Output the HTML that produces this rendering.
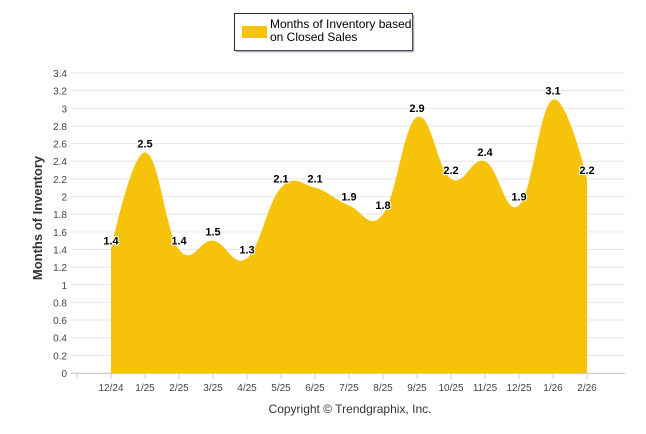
<!DOCTYPE html>
<html><head><meta charset="utf-8"><style>
body{margin:0;background:#fff;}
svg{display:block;font-family:"Liberation Sans",sans-serif;}
</style></head><body>
<svg id="c" width="646" height="434">
<g>
<rect x="234.5" y="13.5" width="178" height="37" fill="#fff" stroke="#1f2d4d" stroke-width="1"/>
<line x1="236" y1="51.5" x2="414" y2="51.5" stroke="#aaa" stroke-width="1.5"/>
<line x1="413.5" y1="15" x2="413.5" y2="52" stroke="#aaa" stroke-width="1.5"/>
<rect x="242" y="26" width="25" height="12" fill="#f7c30a"/>
<text x="270" y="28" font-size="12" fill="#000">Months of Inventory based</text>
<text x="270" y="41" font-size="12" fill="#000">on Closed Sales</text>
</g>
<g id="grid"></g>
<path id="area" fill="#f7c30a"/>
<g id="labels"></g>
<text transform="translate(42,218) rotate(-90)" text-anchor="middle" font-size="13" font-weight="bold" fill="#333">Months of Inventory</text>
<text x="350" y="413" text-anchor="middle" font-size="12" fill="#333">Copyright © Trendgraphix, Inc.</text>
</svg>
<script>
const categories=["12/24","1/25","2/25","3/25","4/25","5/25","6/25","7/25","8/25","9/25","10/25","11/25","12/25","1/26","2/26"];
const values=[1.4,2.5,1.4,1.5,1.3,2.1,2.1,1.9,1.8,2.9,2.2,2.4,1.9,3.1,2.2];
const yTicks=[0,0.2,0.4,0.6,0.8,1,1.2,1.4,1.6,1.8,2,2.2,2.4,2.6,2.8,3,3.2,3.4];
const NS="http://www.w3.org/2000/svg";
const X=i=>111+i*34, Y=v=>373-v*300/3.4;
const grid=document.getElementById('grid'),lab=document.getElementById('labels');
function mk(t,a,p){const e=document.createElementNS(NS,t);for(const k in a)e.setAttribute(k,a[k]);p.appendChild(e);return e;}
yTicks.forEach(v=>{
 const l=mk('line',{x1:71,x2:625,y1:Y(v),y2:Y(v),stroke:'#e6e6e6'},grid);
 
 
 const t=mk('text',{x:67,y:Y(v)+4,'text-anchor':'end','font-size':10,fill:'#444'},grid);
 t.textContent=String(v);
 
 
});
mk('line',{x1:71,x2:625,y1:373.5,y2:373.5,stroke:'#ccc'},grid);
mk('line',{x1:77,x2:77,y1:373,y2:379,stroke:'#ccc'},grid);
categories.forEach((c,i)=>{
 mk('line',{x1:X(i),x2:X(i),y1:373,y2:379,stroke:'#ccc'},grid);
 const t=mk('text',{x:X(i),y:391,'text-anchor':'middle','font-size':10,fill:'#444'},grid);
 t.textContent=c;
 
 
});
let d=`M${X(0)},${Y(0)} L${X(0)},${Y(values[0])}`;
const n=values.length,sm=1.5;
function cp(i){
 const prev=[X(i-1),Y(values[i-1])],cur=[X(i),Y(values[i])],nxt=[X(i+1),Y(values[i+1])];
 let lx=(sm*cur[0]+prev[0])/(sm+1),ly=(sm*cur[1]+prev[1])/(sm+1),rx=(sm*cur[0]+nxt[0])/(sm+1),ry=(sm*cur[1]+nxt[1])/(sm+1);
 const cor=((ry-ly)*(rx-cur[0]))/(rx-lx)+cur[1]-ry;ly+=cor;ry+=cor;
 return [[lx,ly],[rx,ry]];
}
const cps=values.map((v,i)=>(i>0&&i<n-1)?cp(i):[[X(i),Y(v)],[X(i),Y(v)]]);
for(let i=1;i<n;i++){
 const a=cps[i-1][1],b=cps[i][0];
 d+=` C${a[0]},${a[1]} ${b[0]},${b[1]} ${X(i)},${Y(values[i])}`;
}
d+=` L${X(n-1)},${Y(0)} Z`;
document.getElementById('area').setAttribute('d',d);
values.forEach((v,i)=>{
 const t=mk('text',{x:X(i),y:Y(v)-5,'text-anchor':'middle','font-size':11,'font-weight':'bold',fill:'#000',stroke:'#fff','stroke-width':2,'paint-order':'stroke'},lab);
 t.textContent=String(v);
 
 
});
</script>
</body></html>
